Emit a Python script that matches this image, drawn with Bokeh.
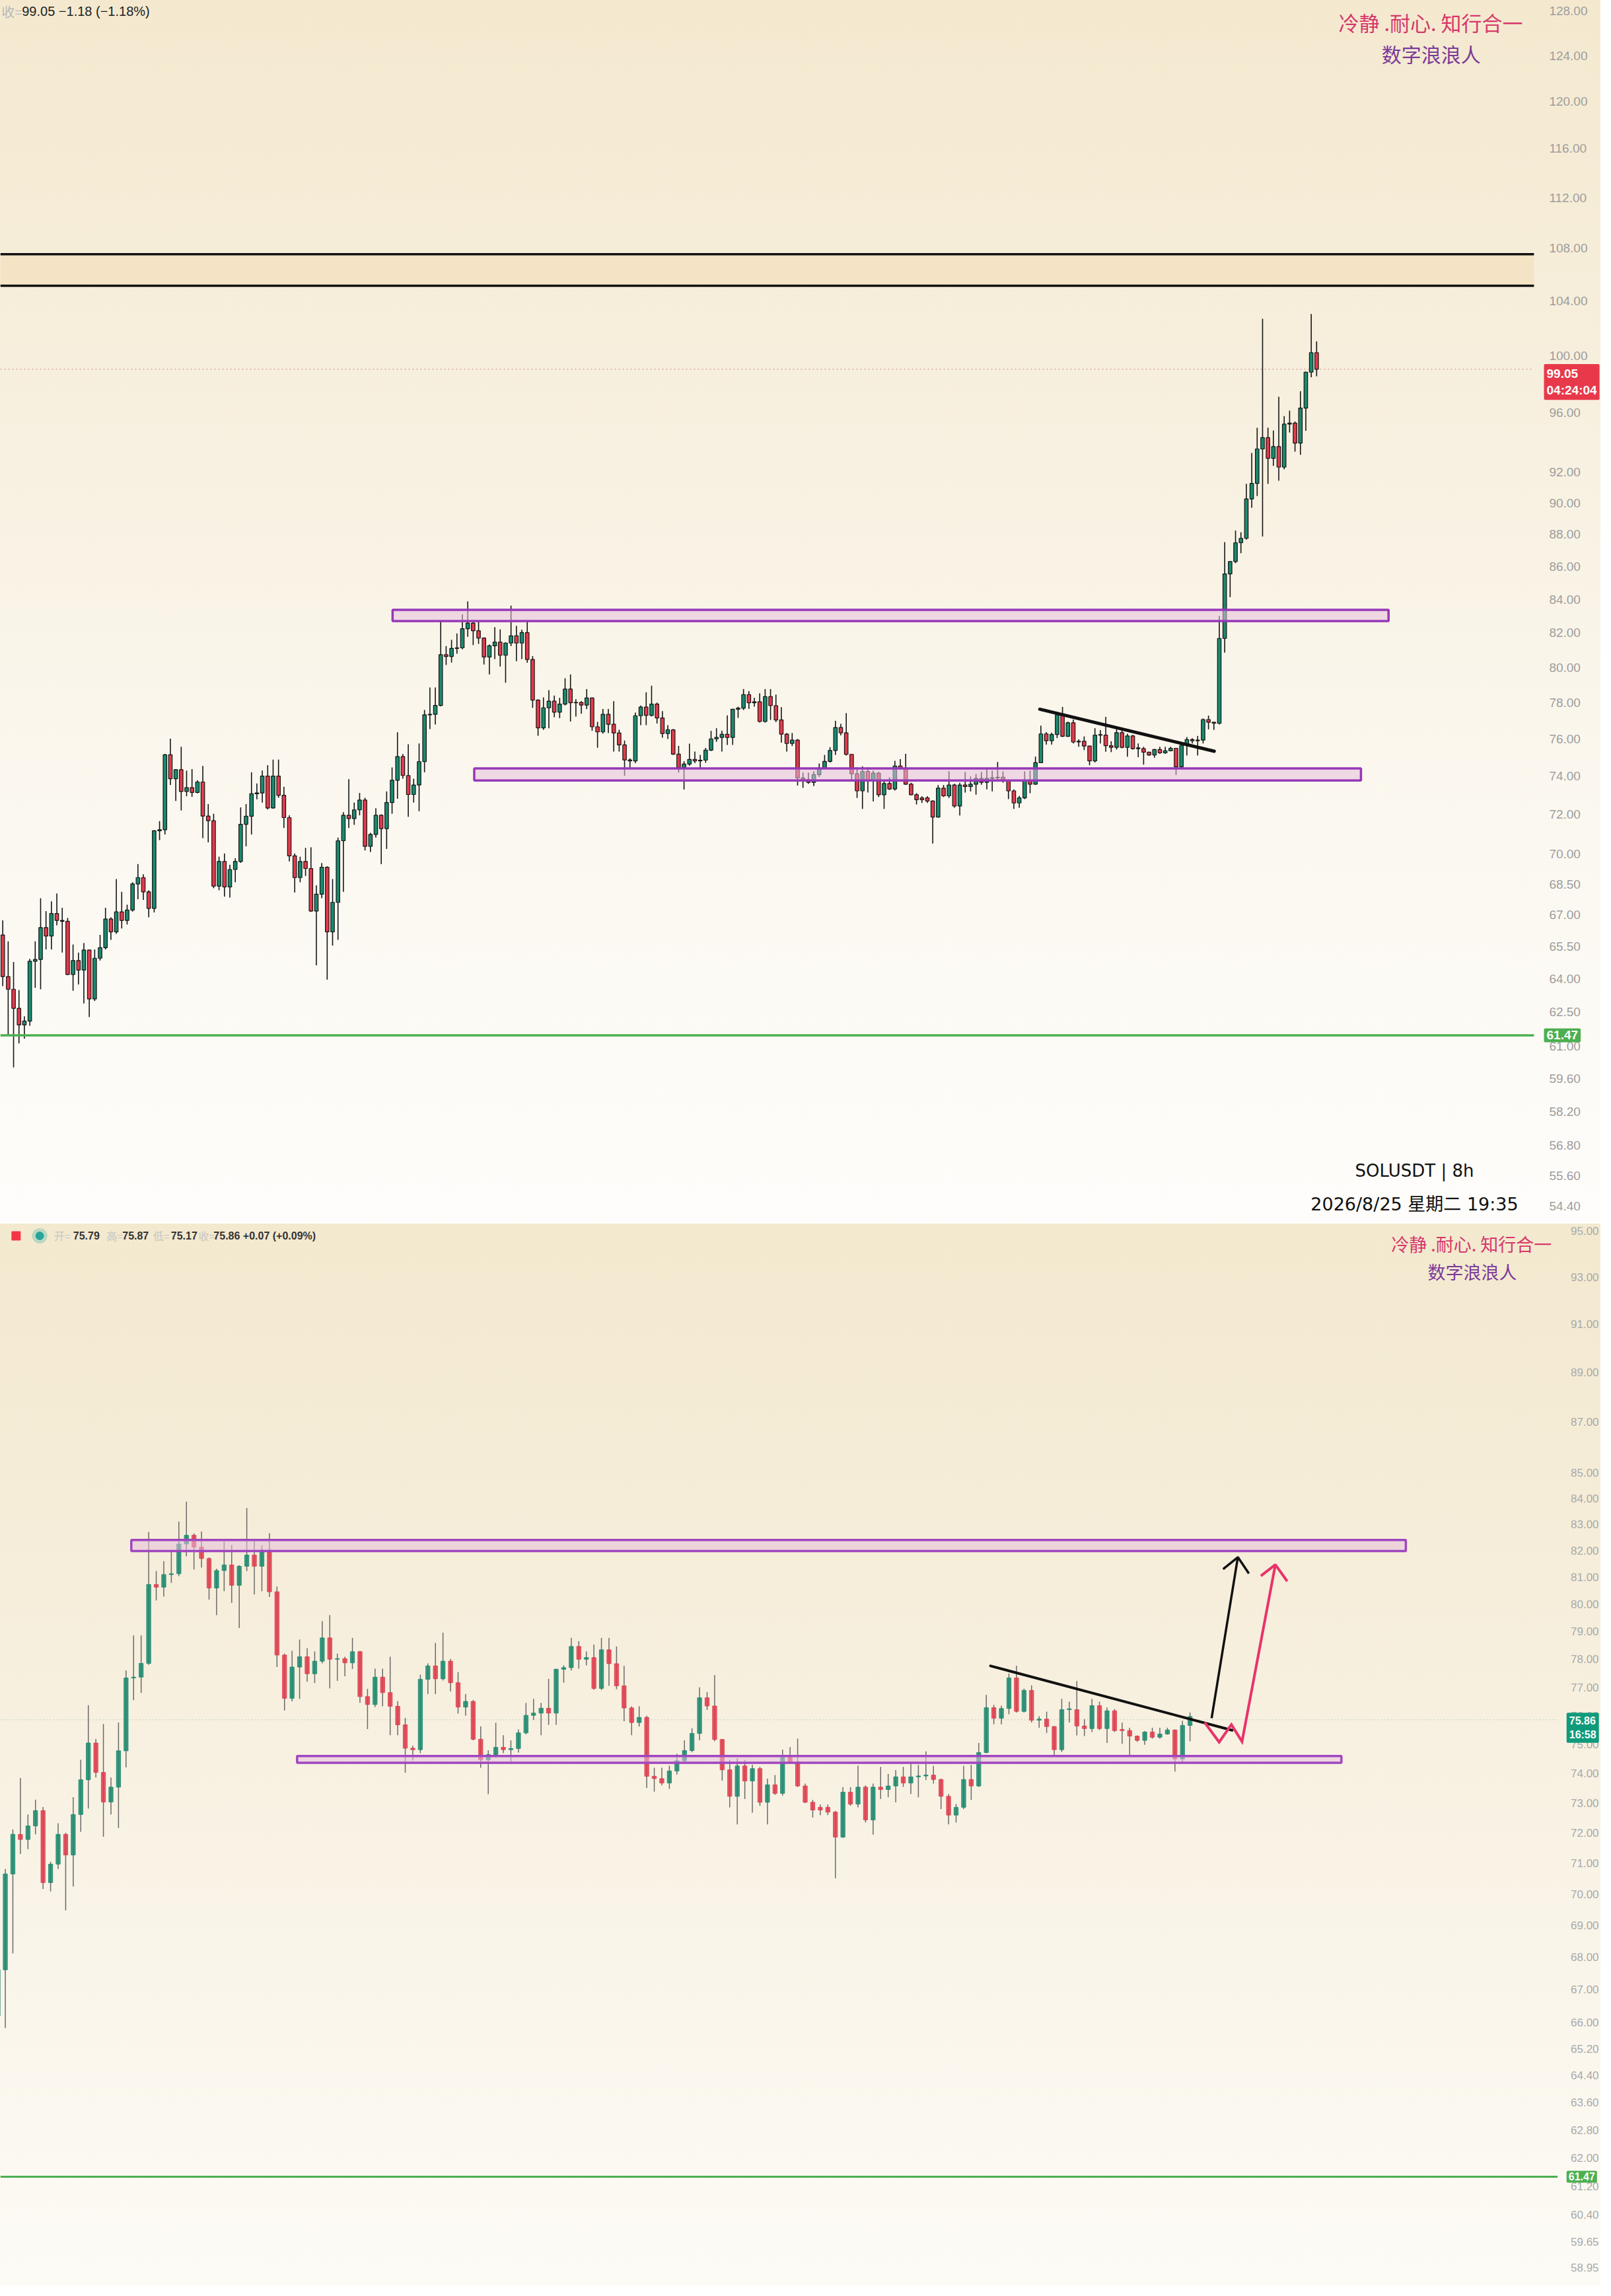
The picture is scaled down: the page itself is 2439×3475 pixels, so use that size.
from bokeh.plotting import figure
from bokeh.models import (ColumnDataSource, FixedTicker, PrintfTickFormatter, Label,
                          Range1d, BoxAnnotation)
from bokeh.layouts import column
from bokeh.embed import file_html
from bokeh.resources import INLINE
from bokeh.core.properties import value

# ---------------- data (SOLUSDT 8h candles) ----------------
candle_open = [
    66.05, 64.11, 63.53, 62.67, 61.93, 62.10, 64.82, 64.90, 66.40, 66.00,
    67.07, 66.74, 66.70, 64.21, 64.85, 64.41, 65.34, 63.09, 64.96, 65.45,
    66.81, 66.20, 67.15, 66.74, 67.24, 68.51, 68.82, 68.12, 67.32, 71.17,
    71.22, 75.15, 73.87, 74.35, 73.20, 73.40, 73.15, 73.70, 71.92, 71.68,
    68.40, 69.62, 68.36, 69.22, 69.62, 71.50, 71.91, 73.08, 73.12, 74.01,
    72.34, 74.01, 73.00, 71.84, 69.90, 68.82, 69.62, 69.27, 67.19, 68.01,
    69.33, 66.20, 67.61, 70.66, 71.96, 71.79, 72.24, 72.75, 70.38, 70.98,
    71.96, 71.28, 72.62, 73.79, 75.05, 74.04, 73.04, 73.54, 74.78, 77.33,
    77.36, 77.85, 80.73, 80.63, 81.10, 81.13, 82.25, 82.58, 82.13, 81.70,
    80.60, 81.25, 81.46, 80.70, 81.41, 81.83, 81.41, 82.02, 80.46, 78.15,
    76.61, 77.72, 78.09, 77.48, 77.93, 78.77, 78.00, 78.02, 77.87, 78.27,
    76.67, 76.39, 77.36, 76.81, 76.33, 75.68, 74.87, 74.82, 77.28, 77.76,
    77.30, 77.93, 77.16, 76.30, 76.50, 75.18, 74.47, 74.65, 74.90, 74.82,
    74.86, 75.40, 76.01, 76.09, 76.26, 76.09, 77.64, 77.70, 78.46, 78.00,
    78.06, 76.96, 78.34, 77.84, 77.05, 76.27, 75.76, 75.94, 73.91, 73.83,
    73.68, 74.09, 74.44, 74.79, 75.38, 76.63, 76.34, 75.17, 74.13, 73.23,
    74.26, 73.75, 74.17, 73.03, 73.62, 73.33, 74.55, 74.40, 73.58, 73.03,
    72.86, 72.86, 72.70, 71.87, 73.37, 72.97, 73.54, 72.44, 73.54, 73.46,
    73.58, 73.89, 73.68, 73.89, 73.92, 73.95, 73.80, 73.23, 72.60, 72.86,
    73.80, 73.58, 74.72, 76.28, 75.91, 76.25, 77.33, 76.15, 76.89, 75.84,
    75.88, 75.62, 74.82, 76.21, 76.21, 75.64, 75.55, 76.35, 75.55, 76.17,
    75.52, 75.48, 75.29, 75.14, 75.43, 75.25, 75.36, 75.50, 74.50, 75.66,
    75.97, 75.91, 75.94, 77.07, 76.92, 76.86, 81.68, 85.54, 86.30, 87.47,
    87.75, 90.26, 91.27, 93.55, 94.31, 92.93, 93.71, 92.34, 95.23, 95.30,
    93.94, 96.33, 98.84, 100.23,
]
candle_high = [
    66.74, 65.75, 64.78, 63.49, 62.31, 64.93, 65.75, 67.81, 67.19, 67.66,
    68.04, 67.35, 66.86, 65.60, 65.22, 65.67, 65.37, 65.37, 66.05, 67.35,
    66.89, 68.75, 68.12, 67.50, 68.59, 69.49, 68.98, 68.20, 71.20, 71.66,
    75.20, 76.02, 74.38, 75.58, 74.30, 74.38, 73.79, 74.55, 72.54, 72.04,
    69.86, 70.02, 69.46, 69.78, 72.37, 72.54, 74.21, 73.62, 74.30, 74.59,
    74.89, 74.89, 73.45, 71.96, 70.02, 69.86, 70.30, 70.33, 68.44, 69.54,
    69.38, 68.75, 70.82, 72.12, 73.85, 72.62, 73.12, 72.87, 71.06, 72.33,
    72.01, 73.20, 74.47, 76.37, 75.19, 75.71, 73.87, 75.76, 77.60, 78.86,
    78.86, 82.71, 81.23, 81.60, 81.97, 83.10, 83.87, 82.65, 82.72, 81.74,
    81.32, 82.34, 82.21, 81.45, 83.62, 82.42, 82.19, 82.66, 80.65, 78.20,
    78.30, 78.71, 78.40, 78.28, 79.38, 79.60, 78.20, 78.09, 78.77, 78.30,
    76.94, 77.66, 77.66, 78.09, 76.51, 75.92, 74.96, 77.45, 77.85, 78.59,
    78.96, 78.01, 77.54, 76.76, 76.55, 75.63, 74.80, 75.75, 75.32, 75.14,
    75.52, 76.45, 76.59, 76.45, 77.30, 77.66, 77.78, 78.77, 78.65, 78.28,
    78.53, 78.77, 78.77, 78.46, 77.76, 76.33, 76.33, 76.00, 74.20, 74.20,
    74.27, 74.68, 75.14, 75.56, 77.00, 76.83, 77.43, 75.19, 74.47, 74.53,
    74.47, 74.30, 74.23, 73.83, 73.95, 74.82, 74.91, 75.20, 73.66, 73.11,
    72.95, 72.95, 72.74, 73.54, 73.54, 74.27, 73.60, 73.66, 74.23, 73.99,
    74.12, 74.23, 74.41, 74.30, 74.76, 74.26, 73.83, 73.31, 72.97, 74.26,
    74.30, 75.05, 76.73, 76.38, 76.35, 77.49, 77.77, 76.95, 77.07, 75.98,
    76.14, 75.64, 76.59, 76.49, 77.22, 75.88, 76.59, 76.49, 76.29, 76.23,
    75.76, 75.58, 75.31, 75.46, 75.58, 75.58, 75.58, 75.52, 75.82, 76.11,
    76.05, 76.17, 77.13, 77.29, 76.95, 83.00, 87.51, 86.33, 88.24, 88.13,
    91.24, 93.29, 94.98, 102.69, 94.99, 94.80, 97.11, 95.78, 96.15, 95.41,
    97.50, 98.88, 103.04, 101.04,
]
candle_low = [
    63.67, 61.46, 60.07, 61.11, 61.32, 61.89, 63.60, 63.53, 65.37, 65.37,
    66.51, 65.22, 64.18, 63.46, 63.75, 62.89, 62.28, 63.00, 64.85, 65.37,
    65.82, 66.10, 66.36, 66.55, 67.16, 67.76, 67.73, 66.89, 67.12, 70.69,
    70.98, 73.54, 72.70, 72.21, 72.95, 72.92, 73.10, 70.79, 70.58, 68.30,
    68.20, 67.89, 67.84, 68.59, 69.55, 70.38, 70.98, 72.79, 72.62, 72.26,
    72.30, 72.87, 71.31, 69.62, 68.09, 68.59, 68.90, 67.15, 64.63, 67.81,
    63.97, 65.55, 65.82, 68.12, 71.31, 71.47, 71.96, 70.17, 70.09, 70.82,
    69.49, 70.25, 72.04, 72.82, 73.87, 71.88, 72.62, 72.17, 74.21, 76.54,
    76.80, 77.80, 80.14, 80.28, 80.79, 81.04, 81.78, 81.29, 81.36, 80.17,
    79.60, 80.48, 80.05, 79.13, 81.23, 80.36, 80.48, 80.27, 77.72, 76.18,
    76.50, 76.59, 77.20, 77.15, 77.85, 76.96, 77.23, 77.39, 77.65, 76.45,
    75.53, 76.30, 76.33, 75.32, 75.32, 74.03, 74.45, 74.70, 76.76, 76.76,
    77.24, 76.85, 76.07, 76.00, 75.14, 74.20, 73.30, 74.56, 74.70, 74.41,
    74.72, 75.35, 75.85, 75.32, 75.68, 75.68, 77.16, 77.60, 77.66, 77.78,
    76.91, 76.90, 77.05, 76.93, 75.80, 75.32, 75.62, 73.51, 73.39, 73.60,
    73.48, 73.97, 74.38, 74.73, 75.14, 76.20, 75.11, 73.76, 72.86, 72.29,
    73.14, 72.68, 72.91, 72.29, 73.28, 73.25, 74.35, 73.55, 73.00, 72.52,
    72.60, 72.60, 70.52, 71.84, 72.91, 72.86, 72.35, 71.95, 73.14, 73.20,
    73.03, 73.55, 73.31, 73.20, 73.78, 73.66, 72.80, 72.29, 72.35, 72.80,
    73.11, 73.55, 74.70, 75.70, 75.70, 76.05, 76.11, 76.11, 75.76, 75.58,
    75.40, 74.59, 74.74, 75.76, 75.31, 75.29, 75.43, 75.50, 75.05, 75.43,
    75.02, 74.62, 75.09, 74.99, 75.20, 75.20, 75.34, 74.07, 74.41, 75.11,
    75.76, 75.11, 75.76, 76.53, 76.50, 76.80, 80.85, 84.13, 86.20, 86.82,
    87.67, 89.69, 90.45, 87.86, 91.24, 92.43, 91.45, 92.20, 94.66, 93.37,
    93.16, 94.78, 98.48, 98.55,
]
candle_close = [
    64.11, 63.53, 62.67, 61.93, 62.10, 64.82, 64.90, 66.40, 66.00, 67.07,
    66.74, 66.70, 64.21, 64.85, 64.41, 65.34, 63.09, 64.96, 65.45, 66.81,
    66.20, 67.15, 66.74, 67.24, 68.51, 68.82, 68.12, 67.32, 71.17, 71.22,
    75.15, 73.87, 74.35, 73.20, 73.40, 73.15, 73.70, 71.92, 71.68, 68.40,
    69.62, 68.36, 69.22, 69.62, 71.50, 71.91, 73.08, 73.12, 74.01, 72.34,
    74.01, 73.00, 71.84, 69.90, 68.82, 69.62, 69.27, 67.19, 68.01, 69.33,
    66.20, 67.61, 70.66, 71.96, 71.79, 72.24, 72.75, 70.38, 70.98, 71.96,
    71.28, 72.62, 73.79, 75.05, 74.04, 73.04, 73.54, 74.78, 77.33, 77.36,
    77.85, 80.73, 80.63, 81.10, 81.13, 82.25, 82.58, 82.13, 81.70, 80.60,
    81.25, 81.46, 80.70, 81.41, 81.83, 81.41, 82.02, 80.46, 78.15, 76.61,
    77.72, 78.09, 77.48, 77.93, 78.77, 78.00, 78.02, 77.87, 78.27, 76.67,
    76.39, 77.36, 76.81, 76.33, 75.68, 74.87, 74.82, 77.28, 77.76, 77.30,
    77.93, 77.16, 76.30, 76.50, 75.18, 74.47, 74.65, 74.90, 74.82, 74.86,
    75.40, 76.01, 76.09, 76.26, 76.09, 77.64, 77.70, 78.46, 78.00, 78.06,
    76.96, 78.34, 77.84, 77.05, 76.27, 75.76, 75.94, 73.91, 73.83, 73.68,
    74.09, 74.44, 74.79, 75.38, 76.63, 76.34, 75.17, 74.13, 73.23, 74.26,
    73.75, 74.17, 73.03, 73.62, 73.33, 74.55, 74.40, 73.58, 73.03, 72.77,
    72.77, 72.70, 71.87, 73.37, 72.97, 73.54, 72.44, 73.54, 73.46, 73.58,
    73.89, 73.68, 73.89, 73.92, 73.95, 73.80, 73.23, 72.60, 72.86, 73.80,
    73.58, 74.72, 76.28, 75.91, 76.25, 77.33, 76.15, 76.89, 75.84, 75.88,
    75.62, 74.82, 76.21, 76.24, 75.64, 75.55, 76.35, 75.55, 76.17, 75.48,
    75.48, 75.29, 75.14, 75.43, 75.25, 75.36, 75.50, 74.50, 75.66, 75.97,
    75.91, 75.94, 77.07, 76.92, 76.86, 81.68, 85.54, 86.30, 87.47, 87.75,
    90.26, 91.27, 93.55, 94.31, 92.93, 93.71, 92.34, 95.23, 95.30, 93.94,
    96.33, 98.84, 100.23, 99.05,
]

# price-axis tick labels
top_ticks = [128, 124, 120, 116, 112, 108, 104, 100, 96, 92, 90, 88, 86, 84, 82, 80,
             78, 76, 74, 72, 70, 68.5, 67, 65.5, 64, 62.5, 61, 59.6, 58.2, 56.8, 55.6, 54.4]
bottom_ticks = [95, 93, 91, 89, 87, 85, 84, 83, 82, 81, 80, 79, 78, 77, 76, 75, 74, 73,
                72, 71, 70, 69, 68, 67, 66, 65.2, 64.4, 63.6, 62.8, 62.0, 61.2, 60.4,
                59.65, 58.95]

# drawn levels / zones (price values)
support_level = 61.47
last_price_top = 99.05
last_price_bottom = 75.86
supply_band = [105.15, 107.55]
top_zone_upper = [82.70, 83.37]
top_zone_lower = [73.78, 74.42]
top_zone_upper_span = [73.1, 257.3]
top_zone_lower_span = [88.2, 252.2]
top_trend_x = [192.8, 225.06]
top_trend_y = [77.64, 75.34]
bot_zone_upper = [81.98, 82.40]
bot_zone_lower = [74.37, 74.60]
bot_zone_upper_span = [79.7, 248.6]
bot_zone_lower_span = [101.67, 240.06]
bot_trend_x = [193.56, 225.58]
bot_trend_y = [77.76, 75.49]
black_arrow_x = [222.86, 226.34]
black_arrow_y = [75.91, 81.75]
black_head_x = [224.38, 226.34, 227.8]
black_head_y = [81.30, 81.75, 81.14]
red_path_x = [221.94, 223.86, 225.48, 226.89, 231.31]
red_path_y = [75.76, 75.08, 75.69, 75.10, 81.47]
red_head_x = [229.39, 231.31, 232.88]
red_head_y = [81.05, 81.47, 80.85]
bottom_first, bottom_last = 62, 220

# ---------------- layout / styling ----------------
W = 2423
TOP_H = 1852
BOT_H = 1607
TOP_X0, TOP_EDGE, TOP_X1 = 0.55, 284.2, 296.55      # chart area ends at TOP_EDGE
BOT_X0, BOT_EDGE, BOT_X1 = 62.34, 268.7, 274.43
GREEN = "#1a8a6e"
RED = "#e23b4c"
CJK = "Noto Sans CJK SC"


def candle_source(first, last):
    xs, o, h, l, c, tp, bt, col = [], [], [], [], [], [], [], []
    for i in range(first, last + 1):
        k = i - 1
        xs.append(i)
        o.append(candle_open[k]); h.append(candle_high[k])
        l.append(candle_low[k]); c.append(candle_close[k])
        tp.append(max(candle_open[k], candle_close[k]))
        bt.append(min(candle_open[k], candle_close[k]))
        col.append(GREEN if candle_close[k] >= candle_open[k] else RED)
    return ColumnDataSource(dict(x=xs, open=o, high=h, low=l, close=c,
                                 top=tp, bottom=bt, color=col))


def style_axis(p, ticks, size, color, standoff, edge):
    ax = p.yaxis[0]
    ax.fixed_location = edge
    ax.ticker = FixedTicker(ticks=ticks)
    ax.formatter = PrintfTickFormatter(format="%.2f")
    ax.axis_line_color = None
    ax.major_tick_line_color = None
    ax.minor_tick_line_color = None
    ax.major_tick_out = 0
    ax.major_tick_in = 0
    ax.major_label_standoff = standoff
    ax.major_label_text_font = "Liberation Sans"
    ax.major_label_text_font_size = size
    ax.major_label_text_color = color


def txt(p, x, y, s, size, color, font="Liberation Sans", align="left",
        baseline="middle", style="normal"):
    p.text(x=[x], y=[y], text=[s], text_font=value(font), text_font_size=value(size),
           text_color=color, text_align=align, text_baseline=baseline,
           text_font_style=style)


def hline(p, x0, x1, y, color, width, dash="solid", alpha=1.0):
    p.segment(x0=[x0], x1=[x1], y0=[y], y1=[y], line_color=color, line_width=width,
              line_dash=dash, line_alpha=alpha)


def price_label(p, x, y, s, bg, size, pad, baseline):
    p.add_layout(Label(x=x, y=y, text=s, text_color="white",
                       text_font="Liberation Sans", text_font_size=size,
                       text_font_style="bold", text_align="left",
                       text_baseline=baseline, background_fill_color=bg,
                       padding=pad, border_radius=2))


def base_figure(h, xr, yr, bg):
    p = figure(width=W, height=h, x_range=Range1d(*xr), y_range=Range1d(*yr),
               y_axis_type="log", y_axis_location="right", x_axis_location=None,
               output_backend="svg", toolbar_location=None,
               min_border_left=0, min_border_right=0,
               min_border_top=0, min_border_bottom=0)
    p.background_fill_color = None
    p.border_fill_color = None
    p.outline_line_color = None
    p.grid.visible = False
    p.styles = {"background": bg}
    return p


# ================= TOP PANEL =================
top = base_figure(TOP_H, (TOP_X0, TOP_X1), (53.70, 129.0),
                  "linear-gradient(to bottom, #f4e9cf 0%, #f7efdd 30%, "
                  "#fbf7ee 62%, #fefdfb 100%)")
style_axis(top, top_ticks, "19px", "#9d9d9d", 23, TOP_EDGE)

top.add_layout(BoxAnnotation(left=TOP_X0, right=TOP_EDGE, bottom=supply_band[0],
                             top=supply_band[1], fill_color="#f3dcb4", fill_alpha=0.55,
                             line_color=None, level="underlay"))
hline(top, TOP_X0, TOP_EDGE, last_price_top, "#d9a39c", 1.5, dash="2 4")

src_top = candle_source(1, len(candle_close))
top.segment(x0="x", y0="low", x1="x", y1="high", source=src_top,
            line_color="#151515", line_width=1.6)
top.vbar(x="x", width=0.66, top="top", bottom="bottom", source=src_top,
         fill_color="color", line_color="#151515", line_width=1.2)

for lv in supply_band:
    hline(top, TOP_X0, TOP_EDGE, lv, "#111111", 3.5)
top.quad(left=[top_zone_upper_span[0], top_zone_lower_span[0]],
         right=[top_zone_upper_span[1], top_zone_lower_span[1]],
         bottom=[top_zone_upper[0], top_zone_lower[0]],
         top=[top_zone_upper[1], top_zone_lower[1]],
         fill_color="#e6bfdd", fill_alpha=0.55, line_color="#9638b8", line_width=3.5)
top.line(x=top_trend_x, y=top_trend_y, line_color="#111111", line_width=5,
         line_cap="round")
hline(top, TOP_X0, TOP_EDGE, support_level, "#4caf50", 3.5)

# texts
txt(top, 0.75, 127.98, "收=", "20px", "#b8b8b8", font=CJK)
txt(top, 4.55, 127.98, "99.05  −1.18 (−1.18%)", "20px", "#1e1e1e")
txt(top, 265.1, 127.02, "冷静 .耐心. 知行合一", "31px", "#d6386b", font=CJK, align="center")
txt(top, 265.2, 124.18, "数字浪浪人", "30px", "#7b3a99", font=CJK, align="center")
txt(top, 262.1, 55.79, "SOLUSDT | 8h", "26px", "#111111", font="DejaVu Sans", align="center")
txt(top, 262.1, 54.46, "2026/8/25 星期二 19:35", "27px", "#111111",
    font="DejaVu Sans, Noto Sans CJK SC", align="center")

price_label(top, TOP_EDGE + 1.85, 99.41, "99.05\n04:24:04", "#e8394a", "19px", 4, "top")
price_label(top, TOP_EDGE + 1.85, support_level, "61.47", "#4caf50", "19px", 4, "middle")

# ================= BOTTOM PANEL =================
bot = base_figure(BOT_H, (BOT_X0, BOT_X1), (58.46, 95.30),
                  "linear-gradient(to bottom, #f3e9cf 0%, #f6eedb 35%, "
                  "#faf5ea 70%, #fdfbf6 100%)")
style_axis(bot, bottom_ticks, "17px", "#a9a9a9", 20, BOT_EDGE)

hline(bot, BOT_X0, BOT_EDGE, last_price_bottom, "#cfdccb", 1.5, dash="2 3")

src_bot = candle_source(bottom_first, bottom_last)
bot.segment(x0="x", y0="low", x1="x", y1="high", source=src_bot,
            line_color="#6a6a6a", line_width=1.5)
bot.vbar(x="x", width=0.55, top="top", bottom="bottom", source=src_bot,
         fill_color="color", line_color="color", line_width=1, fill_alpha=0.85,
         line_alpha=0.85)

bot.quad(left=[bot_zone_upper_span[0], bot_zone_lower_span[0]],
         right=[bot_zone_upper_span[1], bot_zone_lower_span[1]],
         bottom=[bot_zone_upper[0], bot_zone_lower[0]],
         top=[bot_zone_upper[1], bot_zone_lower[1]],
         fill_color="#e6bfdd", fill_alpha=0.55, line_color="#a046c0", line_width=3.5)
bot.line(x=bot_trend_x, y=bot_trend_y, line_color="#111111", line_width=4,
         line_cap="round")
bot.line(x=black_arrow_x, y=black_arrow_y, line_color="#111111", line_width=3.5)
bot.line(x=black_head_x, y=black_head_y, line_color="#111111", line_width=3.5)
bot.line(x=red_path_x, y=red_path_y, line_color="#e8336b", line_width=4,
         line_join="miter")
bot.line(x=red_head_x, y=red_head_y, line_color="#e8336b", line_width=4)
hline(bot, BOT_X0, BOT_EDGE, support_level, "#4caf50", 3)

# header of bottom panel
bot.scatter(x=[64.43], y=[94.78], marker="square", size=13, color="#f23645")
bot.scatter(x=[67.56], y=[94.78], marker="circle", size=22, color="#26a69a", alpha=0.25)
bot.scatter(x=[67.56], y=[94.78], marker="circle", size=12, color="#26a69a")
for xl, lab, xv, val in [(69.47, "开=", 71.99, "75.79"), (76.42, "高=", 78.51, "75.87"),
                         (82.60, "低=", 84.95, "75.17"),
                         (88.60, "收=", 90.60, "75.86 +0.07 (+0.09%)")]:
    txt(bot, xl, 94.78, lab, "16px", "#c4c4c4", font=CJK)
    txt(bot, xv, 94.78, val, "16px", "#333333", style="bold")

txt(bot, 257.3, 94.44, "冷静 .耐心. 知行合一", "27px", "#d6386b", font=CJK, align="center")
txt(bot, 257.4, 93.25, "数字浪浪人", "27px", "#7b3a99", font=CJK, align="center")

price_label(bot, BOT_EDGE + 1.2, 76.10, "75.86\n16:58", "#0f9b7b", "16px", 4, "top")
price_label(bot, BOT_EDGE + 1.2, support_level, "61.47", "#4caf50", "16px", 3, "middle")

layout = column(top, bot)
open("out.html", "w").write(file_html(layout, INLINE))
